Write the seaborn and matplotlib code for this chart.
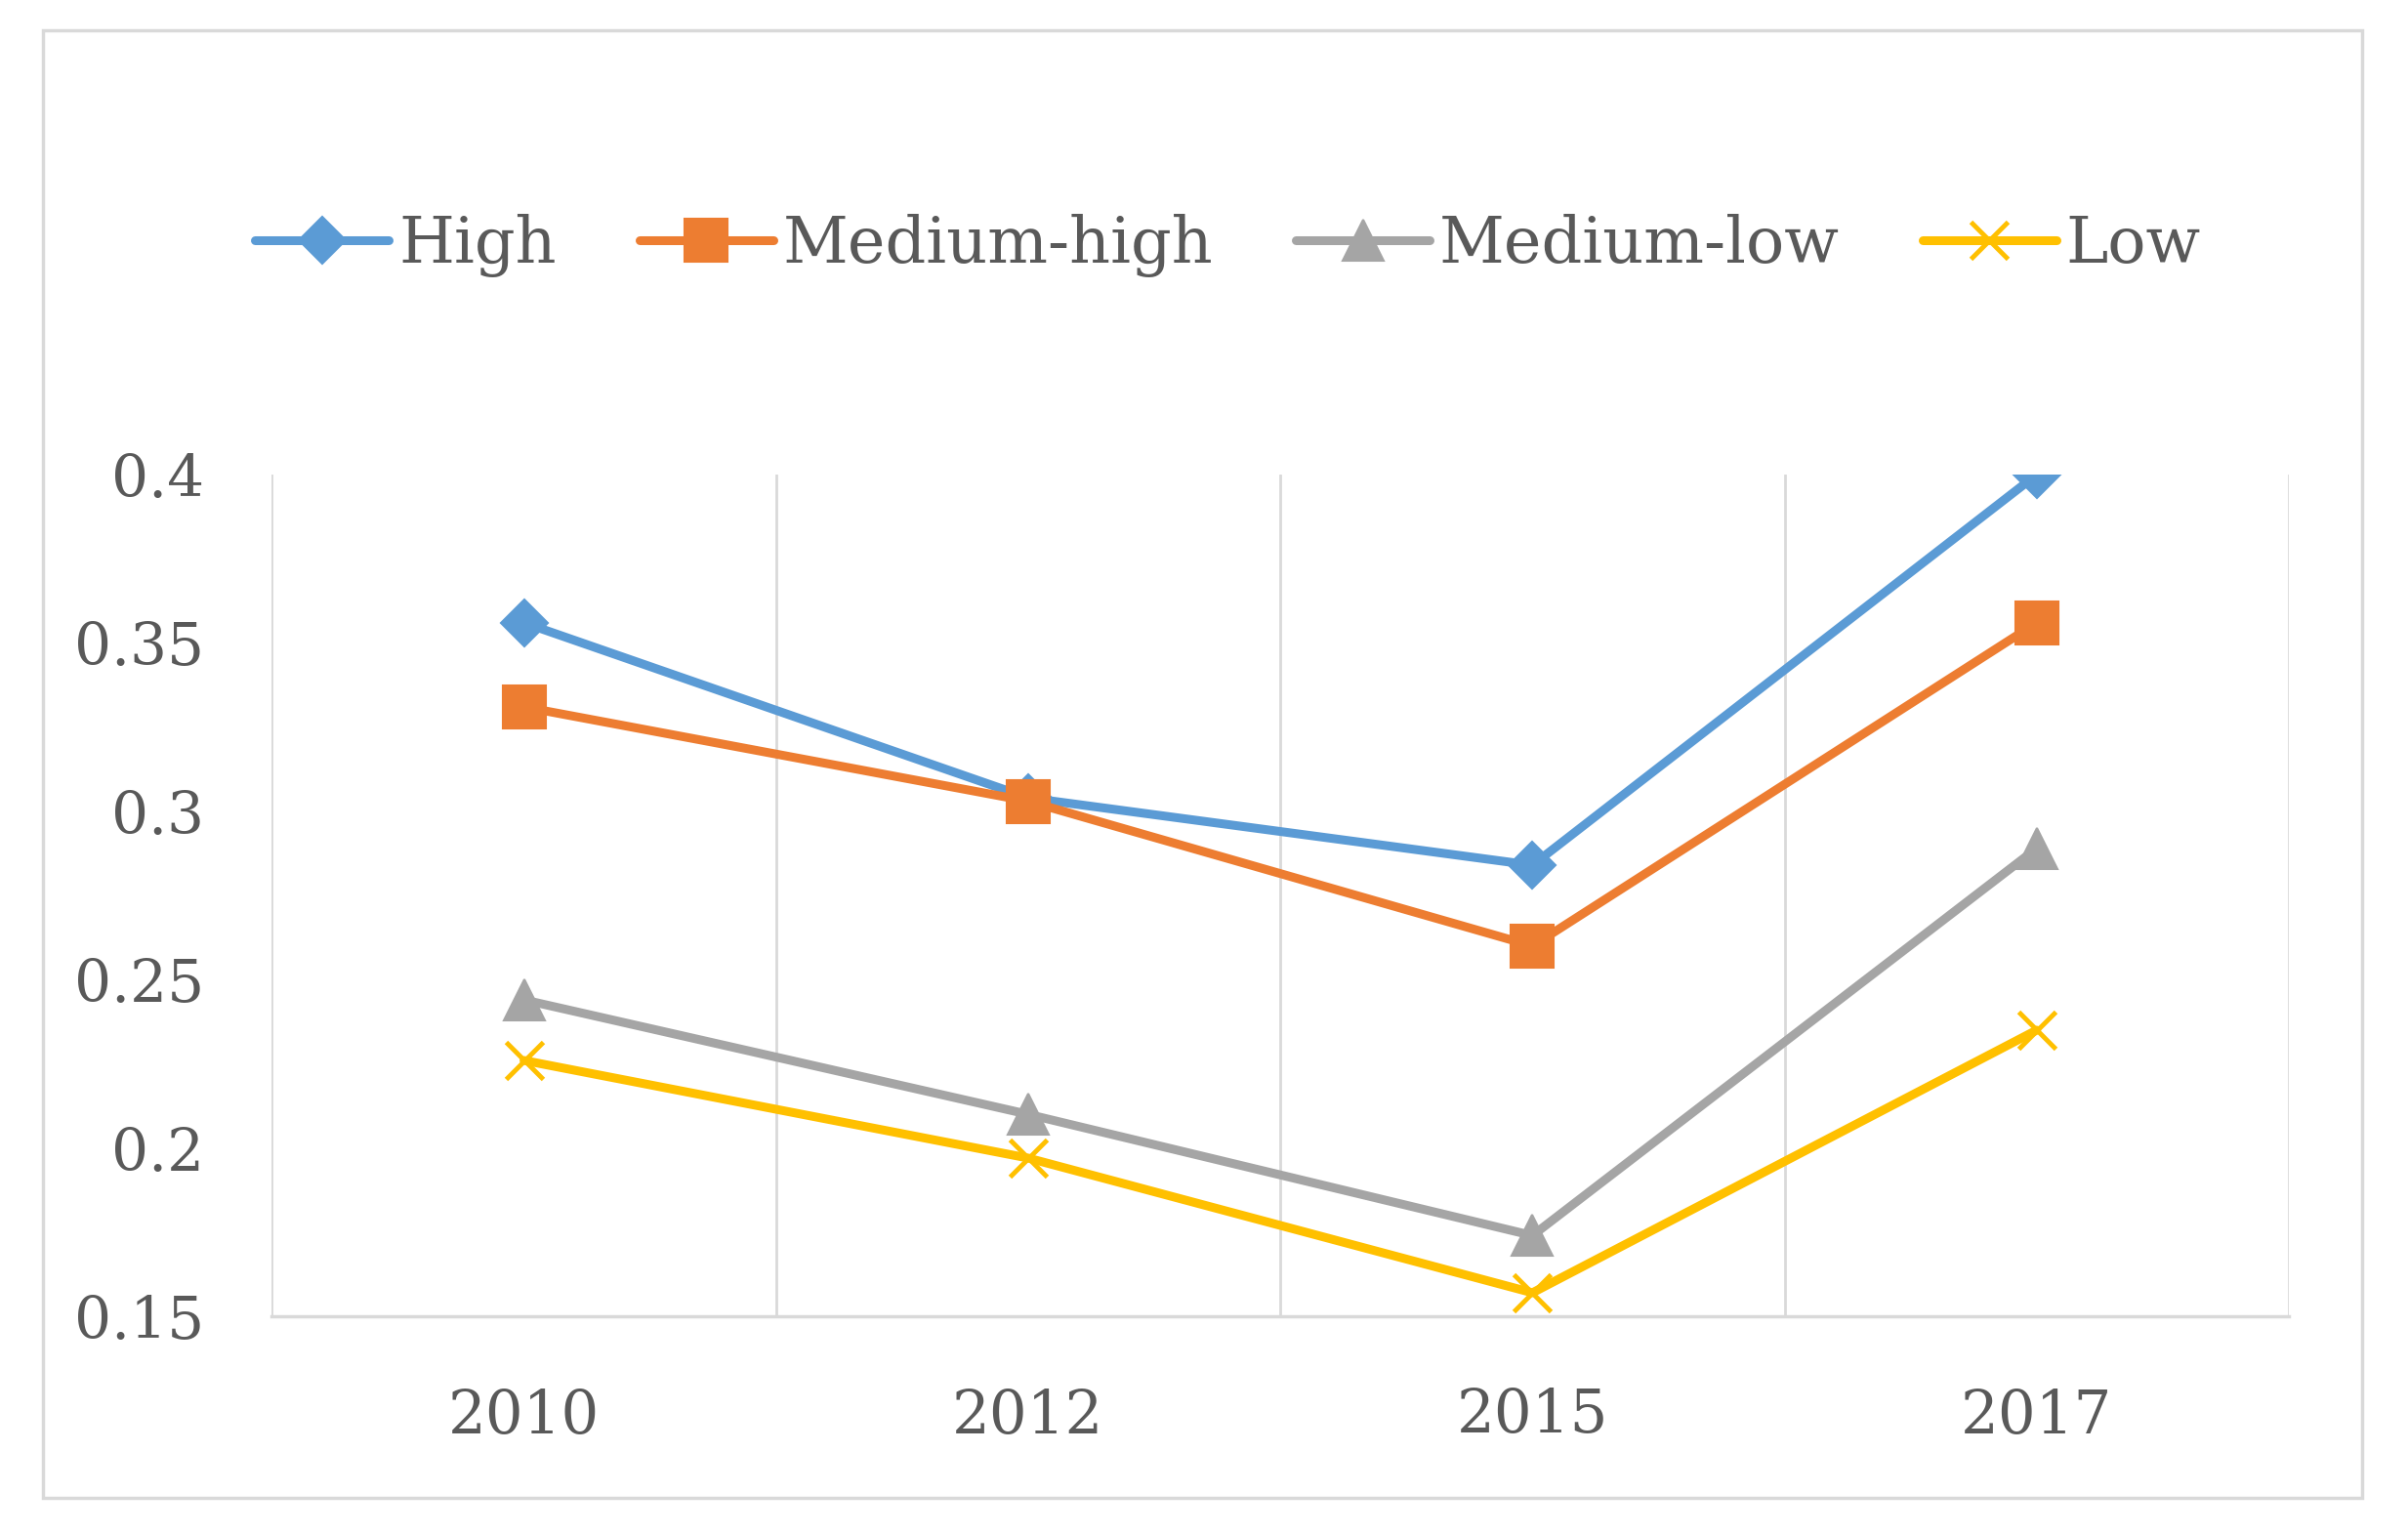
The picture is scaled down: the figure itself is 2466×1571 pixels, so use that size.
import matplotlib
matplotlib.use("Agg")
import matplotlib.pyplot as plt
import matplotlib.patches as mpatches
from matplotlib.ticker import FuncFormatter, FixedLocator
import seaborn as sns
import pandas as pd

years = ["2010", "2012", "2015", "2017"]
series_names = ["High", "Medium-high", "Medium-low", "Low"]
high = [0.356, 0.304, 0.284, 0.400]
medium_high = [0.331, 0.303, 0.260, 0.356]
medium_low = [0.244, 0.210, 0.174, 0.289]
low = [0.226, 0.197, 0.157, 0.235]
y_ticks = [0.15, 0.2, 0.25, 0.3, 0.35, 0.4]

colors = ["#5B9BD5", "#ED7D31", "#A5A5A5", "#FFC000"]
markers = ["D", "s", "^", "x"]
msizes = [24, 32, 30, 28]

values = [high, medium_high, medium_low, low]
rows = []
for name, vals in zip(series_names, values):
    for i, (yr, v) in enumerate(zip(years, vals)):
        rows.append({"series": name, "pos": i, "year": yr, "value": v})
df = pd.DataFrame(rows)

sns.set_theme(style="white")
plt.rcParams["font.family"] = ["DejaVu Serif"]

fig = plt.figure(figsize=(24.66, 15.71), dpi=100)
ax = fig.add_axes([0.1129, 0.1419, 0.9505 - 0.1129, 0.6906 - 0.1419])

for name, c, m, ms in zip(series_names, colors, markers, msizes):
    sub = df[df["series"] == name]
    kw = dict(markeredgecolor=c, markerfacecolor=c, markeredgewidth=1.5)
    if m == "x":
        kw["markeredgewidth"] = 3.5
    sns.lineplot(data=sub, x="pos", y="value", ax=ax, color=c, marker=m,
                 markersize=ms, linewidth=6.5, label=name, **kw)

ax.set_xlim(-0.5, len(years) - 0.5)
ax.set_ylim(min(y_ticks), max(y_ticks))
ax.set_xticks(range(len(years)))
ax.set_xticklabels(years)
ax.yaxis.set_major_locator(FixedLocator(y_ticks))
ax.yaxis.set_major_formatter(FuncFormatter(lambda v, p: f"{v:g}"))
ax.xaxis.set_minor_locator(FixedLocator([i - 0.5 for i in range(len(years) + 1)]))
ax.grid(False)
ax.grid(True, which="minor", axis="x", color="#D9D9D9", linewidth=2)
ax.tick_params(axis="both", which="both", length=0, labelcolor="#595959")
ax.tick_params(axis="y", labelsize=43, pad=50)
ax.tick_params(axis="x", labelsize=44, pad=52)
ax.set_xlabel("")
ax.set_ylabel("")
for s in ["top", "right", "left"]:
    ax.spines[s].set_visible(False)
ax.spines["bottom"].set_color("#D9D9D9")
ax.spines["bottom"].set_linewidth(2.5)

handles, labels = ax.get_legend_handles_labels()
ax.legend(handles, labels, loc="center", bbox_to_anchor=(0.510, 0.8397),
          bbox_transform=fig.transFigure, ncol=4, frameon=False,
          fontsize=47, handlelength=2.1, handletextpad=0.15, columnspacing=1.3,
          labelcolor="#595959")

border = mpatches.Rectangle((0.0179, 0.0237), 0.981 - 0.0179, 0.98 - 0.0237,
                            transform=fig.transFigure, fill=False,
                            edgecolor="#D9D9D9", linewidth=2.5)
fig.patches.append(border)

fig.savefig("out.png", dpi=100, facecolor="white")
